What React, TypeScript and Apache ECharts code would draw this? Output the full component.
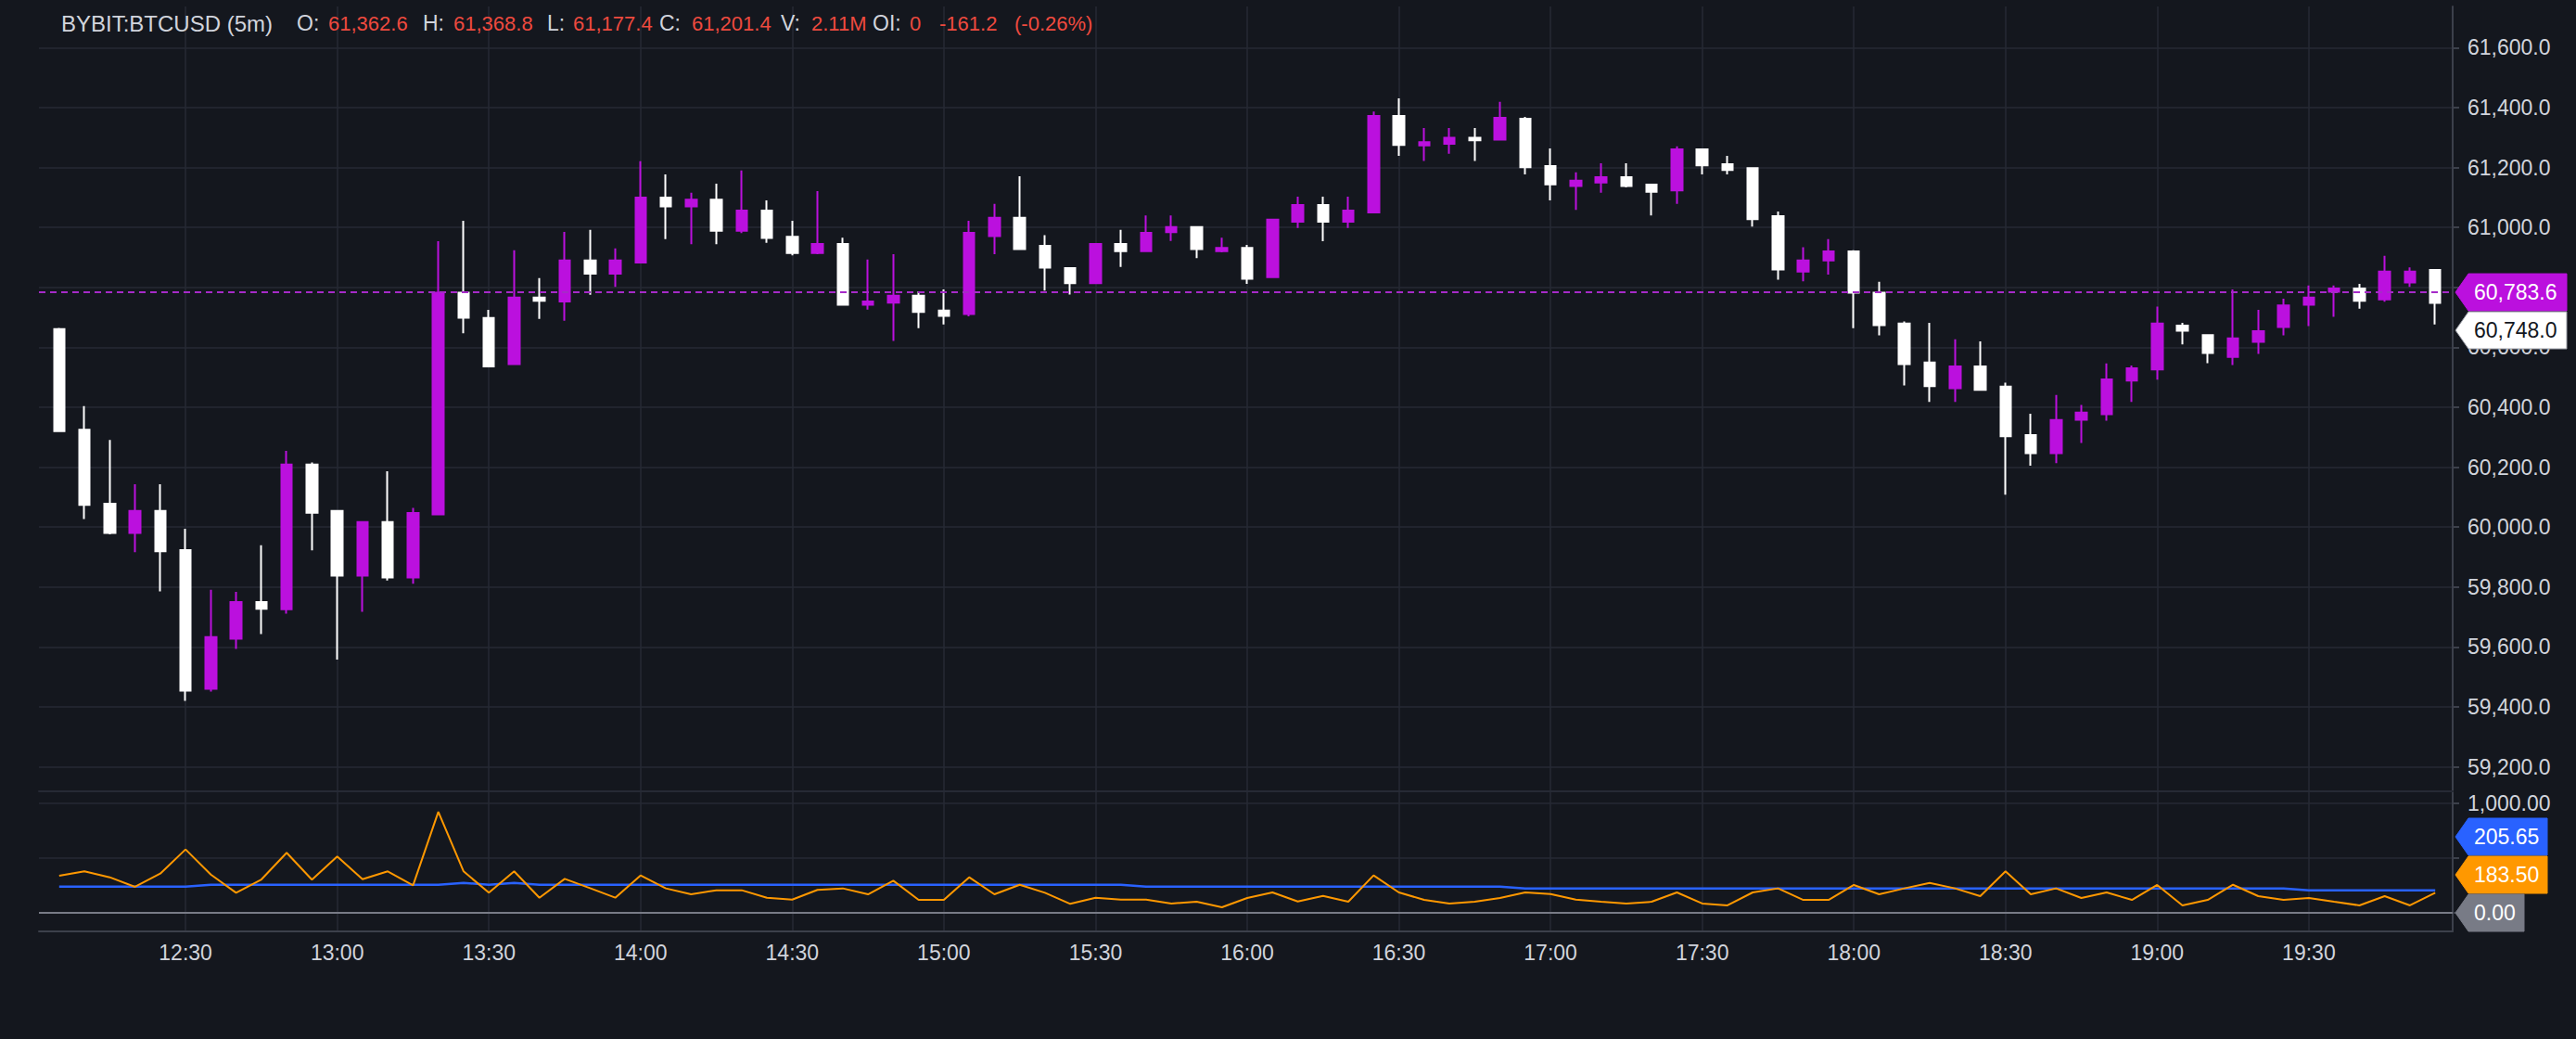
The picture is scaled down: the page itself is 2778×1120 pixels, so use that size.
import React, { useEffect, useRef } from "react";
import * as echarts from "echarts";

// ---------- DATA ----------
const openP = [
  60661, 60325, 60078, 59980, 60054, 59923, 59460, 59627, 59750, 59726,
  60209, 60054, 59838, 60017, 59832, 60042, 60782, 60698, 60544, 60766,
  60753, 60890, 60846, 60883, 61100, 61070, 61093, 60989, 61056, 60969,
  60915, 60945, 60742, 60749, 60772, 60723, 60711, 60971, 61032, 60939,
  60864, 60814, 60945, 60921, 60984, 61001, 60921, 60932, 60834, 61019,
  61075, 61019, 61050, 61372, 61274, 61279, 61299, 61293, 61362.6, 61205,
  61138, 61150, 61168, 61143, 61124, 61261, 61211, 61198, 61038, 60853,
  60890, 60920, 60782, 60679, 60549, 60463, 60536, 60469, 60307, 60247,
  60358, 60377, 60489, 60526, 60672, 60641, 60568, 60618, 60668, 60742,
  60785, 60796, 60760, 60816, 60858,
];
const highP = [
  60665, 60404, 60291, 60143, 60143, 59994, 59791, 59784, 59939, 60254,
  60216, 60056, 60019, 60186, 60064, 60954, 61022, 60725, 60924, 60831,
  60985, 60992, 60930, 61221, 61177, 61116, 61146, 61190, 61090, 61022,
  61121, 60966, 60893, 60911, 60787, 60793, 61022, 61079, 61171, 60974,
  60866, 60948, 60992, 61040, 61040, 61003, 60966, 60942, 61029, 61103,
  61103, 61103, 61387, 61431, 61332, 61332, 61332, 61419, 61368.8, 61264,
  61184, 61214, 61214, 61145, 61271, 61263, 61239, 61200, 61053, 60934,
  60961, 60924, 60819, 60686, 60682, 60627, 60620, 60482, 60378, 60441,
  60408, 60546, 60539, 60736, 60682, 60643, 60793, 60725, 60762, 60806,
  60806, 60812, 60905, 60867, 60860,
];
const lowP = [
  60318, 60027, 59976, 59916, 59785, 59420, 59451, 59593, 59643, 59711,
  59922, 59558, 59717, 59822, 59811, 60040, 60647, 60534, 60542, 60695,
  60689, 60775, 60802, 60880, 60961, 60944, 60944, 60981, 60949, 60907,
  60911, 60740, 60726, 60621, 60664, 60676, 60703, 60911, 60925, 60789,
  60776, 60812, 60868, 60919, 60955, 60898, 60917, 60812, 60832, 60998,
  60954, 60998, 61047, 61239, 61222, 61246, 61222, 61292, 61177.4, 61090,
  61059, 61116, 61134, 61040, 61079, 61177, 61177, 61003, 60826, 60820,
  60843, 60664, 60640, 60473, 60418, 60418, 60455, 60108, 60205, 60213,
  60281, 60355, 60418, 60492, 60610, 60547, 60541, 60578, 60640, 60671,
  60702, 60729, 60752, 60802, 60676,
];
const closeP = [
  60320, 60074, 59980, 60054, 59919, 59454, 59633, 59750, 59727, 60209,
  60048, 59838, 60017, 59832, 60047, 60782, 60699, 60536, 60766, 60755,
  60890, 60846, 60890, 61100, 61070, 61093, 60989, 61056, 60965, 60915,
  60945, 60742, 60753, 60772, 60718, 60705, 60982, 61032, 60928, 60866,
  60814, 60945, 60921, 60982, 61001, 60928, 60932, 60829, 61026, 61075,
  61019, 61056, 61372, 61275, 61285, 61299, 61291, 61366, 61201.4, 61144,
  61156, 61168, 61138, 61119, 61261, 61207, 61192, 61028, 60860, 60890,
  60920, 60782, 60674, 60544, 60470, 60536, 60458, 60303, 60247, 60357,
  60382, 60493, 60530, 60679, 60655, 60581, 60630, 60654, 60740, 60766,
  60796, 60755, 60853, 60853, 60748,
];
const volumeLine = [
  338, 378, 324, 237, 358, 578, 349, 183, 304, 547,
  302, 513, 307, 378, 251, 921, 378, 183, 378, 138,
  310, 225, 138, 341, 223, 169, 206, 206, 138, 121,
  209, 223, 169, 293, 118, 118, 324, 169, 256, 183,
  82, 138, 121, 121, 85, 101, 51, 135, 186, 104,
  155, 101, 341, 186, 118, 85, 101, 135, 186, 172,
  121, 101, 85, 101, 186, 85, 68, 186, 223, 118,
  118, 254, 169, 223, 273, 223, 152, 378, 169, 223,
  135, 186, 118, 254, 68, 118, 256, 152, 118, 135,
  101, 68, 152, 68, 183.5,
];
const maLine = [
  238, 238, 238, 238, 238, 238, 256, 256, 256, 256,
  256, 256, 256, 256, 256, 256, 273, 256, 273, 256,
  256, 256, 256, 256, 256, 256, 256, 256, 256, 256,
  256, 256, 256, 256, 256, 256, 256, 256, 256, 256,
  256, 256, 256, 238, 238, 238, 238, 238, 238, 238,
  238, 238, 238, 238, 238, 238, 238, 238, 222, 222,
  222, 222, 222, 222, 222, 222, 222, 222, 222, 222,
  222, 222, 222, 222, 222, 222, 222, 222, 222, 222,
  222, 222, 222, 222, 222, 222, 222, 222, 222, 205.65,
  205.65, 205.65, 205.65, 205.65, 205.65,
];
const timeTickIndex = [5, 11, 17, 23, 29, 35, 41, 47, 53, 59, 65, 71, 77, 83, 89];
const timeTickLabels = [
  "12:30", "13:00", "13:30", "14:00", "14:30", "15:00", "15:30", "16:00",
  "16:30", "17:00", "17:30", "18:00", "18:30", "19:00", "19:30",
];
const priceTicks = [59200, 59400, 59600, 59800, 60000, 60200, 60400, 60600, 60800, 61000, 61200, 61400, 61600];
// 60,800.0 sits fully under the price tag in the reference
const priceLabelTicks = [59200, 59400, 59600, 59800, 60000, 60200, 60400, 60600, 61000, 61200, 61400, 61600];
const volumeTicks = [0, 500, 1000];
const volumeLabelTicks = [1000];
const markPrice = 60783.6;
const hoverIndex = 58;
const symbolName = "BYBIT:BTCUSD (5m)";
const volumeText = "2.11M";
const oiText = "0";

// ---------- STYLE ----------
const BG = "#14171e";
const GRID = "#262a35";
const AXIS = "#3c404b";
const TEXT = "#d1d4dc";
const RED = "#ee4a3f";
const PURPLE = "#bb10de";
const DASH = "#a62ac8";
const WHITE = "#ffffff";
const BLUE = "#2962ff";
const ORANGE = "#ff9800";
const GRAY = "#787b86";
const FONT = '"Liberation Sans", Arial, sans-serif';
const FS = 23;

const X_MIN = -0.8;
const X_MAX = 94.69;

const fmt = (v: number, d: number) =>
  v.toLocaleString("en-US", { minimumFractionDigits: d, maximumFractionDigits: d });

export default function App() {
  const ref = useRef<HTMLDivElement>(null);
  useEffect(() => {
    const chart = echarts.init(ref.current!, null, { renderer: "svg" });
    const candles = openP.map((o, i) => [i, o, closeP[i], lowP[i], highP[i]]);
    const option: any = {
      animation: false,
      backgroundColor: BG,
      textStyle: { fontFamily: FONT },
      grid: [
        { left: 42, right: 133, top: 7, height: 846 },
        { left: 42, right: 133, top: 854, height: 150 },
      ],
      xAxis: [
        {
          type: "value", gridIndex: 0, min: X_MIN, max: X_MAX,
          axisLine: { show: true, onZero: false, lineStyle: { color: GRID, width: 2 } },
          axisTick: { show: false, customValues: timeTickIndex },
          axisLabel: { show: false, customValues: timeTickIndex },
          splitLine: { show: true, lineStyle: { color: GRID, width: 1.5 } },
        },
        {
          type: "value", gridIndex: 1, min: X_MIN, max: X_MAX,
          axisLine: { show: true, onZero: false, lineStyle: { color: AXIS, width: 2 } },
          axisTick: { show: false, customValues: timeTickIndex },
          axisLabel: {
            show: true, customValues: timeTickIndex, color: TEXT, fontSize: FS, fontFamily: FONT, margin: 11,
            formatter: (v: number) => {
              const k = timeTickIndex.indexOf(Math.round(v));
              return k >= 0 ? timeTickLabels[k] : "";
            },
          },
          splitLine: { show: true, lineStyle: { color: GRID, width: 1.5 } },
        },
      ],
      yAxis: [
        {
          type: "value", gridIndex: 0, position: "right", min: 59118, max: 61737.5, scale: true,
          axisLine: { show: true, onZero: false, lineStyle: { color: AXIS, width: 2 } },
          axisTick: { show: true, length: 7, customValues: priceTicks, lineStyle: { color: AXIS, width: 2 } },
          axisLabel: {
            show: true, customValues: priceLabelTicks, color: TEXT, fontSize: FS, fontFamily: FONT, margin: 16,
            formatter: (v: number) => fmt(v, 1),
          },
          splitLine: { show: true, lineStyle: { color: GRID, width: 1.5 } },
        },
        {
          type: "value", gridIndex: 1, position: "right", min: -169, max: 1099,
          axisLine: { show: true, onZero: false, lineStyle: { color: AXIS, width: 2 } },
          axisTick: { show: true, length: 7, customValues: volumeTicks, lineStyle: { color: AXIS, width: 2 } },
          axisLabel: {
            show: true, customValues: volumeLabelTicks, color: TEXT, fontSize: FS, fontFamily: FONT, margin: 16,
            formatter: (v: number) => fmt(v, 2),
          },
          splitLine: { show: true, lineStyle: { color: GRID, width: 1.5 } },
        },
      ],
      series: [
        {
          type: "candlestick", xAxisIndex: 0, yAxisIndex: 0,
          data: candles, encode: { x: 0, y: [1, 2, 3, 4] },
          barWidth: 12,
          itemStyle: { color: PURPLE, color0: WHITE, borderColor: PURPLE, borderColor0: WHITE, borderWidth: 2 },
          markLine: {
            silent: true, symbol: "none", label: { show: false },
            lineStyle: { color: DASH, type: [7, 5], width: 2.2, opacity: 1 },
            data: [{ yAxis: markPrice }],
          },
        },
        {
          type: "line", xAxisIndex: 1, yAxisIndex: 1, z: 2,
          data: maLine.map((v, i) => [i, v]),
          showSymbol: false, lineStyle: { color: BLUE, width: 2.5 }, itemStyle: { color: BLUE },
        },
        {
          type: "line", xAxisIndex: 1, yAxisIndex: 1, z: 3,
          data: volumeLine.map((v, i) => [i, v]),
          showSymbol: false, lineStyle: { color: ORANGE, width: 2 }, itemStyle: { color: ORANGE },
          markLine: {
            silent: true, symbol: "none", label: { show: false },
            lineStyle: { color: GRAY, type: "solid", width: 2 },
            data: [{ yAxis: 0 }],
          },
        },
      ],
    };
    chart.setOption(option);

    // ----- price tags & header, positioned from the axes -----
    const axisX = chart.convertToPixel({ xAxisIndex: 0 }, X_MAX) as number;
    const tipX = axisX + 3;
    const bodyX = axisX + 17;
    const TAG_H = 40;
    const STEP = 41;
    const tag = (cy: number, w: number, fill: string, color: string, text: string, stroke?: string) => [
      {
        type: "polygon", z: 100, silent: true,
        shape: { points: [[tipX, cy], [bodyX, cy - TAG_H / 2], [bodyX + w, cy - TAG_H / 2], [bodyX + w, cy + TAG_H / 2], [bodyX, cy + TAG_H / 2]] },
        style: { fill, stroke: stroke || fill, lineWidth: 1 },
      },
      {
        type: "text", z: 101, silent: true, x: bodyX + 6, y: cy,
        style: { text, fill: color, font: `${FS}px ${FONT}`, verticalAlign: "middle", textVerticalAlign: "middle" },
      },
    ];
    const lastClose = closeP[closeP.length - 1];
    const lastVol = volumeLine[volumeLine.length - 1];
    const lastMa = maLine[maLine.length - 1];
    const yMark = chart.convertToPixel({ yAxisIndex: 0 }, markPrice) as number;
    const yLast = Math.max(chart.convertToPixel({ yAxisIndex: 0 }, lastClose) as number, yMark + STEP);
    const yZero = chart.convertToPixel({ yAxisIndex: 1 }, 0) as number;
    const yVol = Math.min(chart.convertToPixel({ yAxisIndex: 1 }, lastVol) as number, yZero - STEP);
    const yMa = Math.min(chart.convertToPixel({ yAxisIndex: 1 }, lastMa) as number, yVol - STEP);

    const o = openP[hoverIndex], h = highP[hoverIndex], l = lowP[hoverIndex], c = closeP[hoverIndex];
    const chg = c - o;
    const pct = (chg / o) * 100;
    const header: [string, string, number, number][] = [
      [symbolName, TEXT, 66, 24],
      ["O:", TEXT, 320, 23], [fmt(o, 1), RED, 354, 22],
      ["H:", TEXT, 456, 23], [fmt(h, 1), RED, 489, 22],
      ["L:", TEXT, 590, 23], [fmt(l, 1), RED, 618, 22],
      ["C:", TEXT, 711, 23], [fmt(c, 1), RED, 746, 22],
      ["V:", TEXT, 842, 23], [volumeText, RED, 875, 22],
      ["OI:", TEXT, 941, 23], [oiText, RED, 981, 22],
      [fmt(chg, 1), RED, 1013, 22],
      [`(${fmt(pct, 2)}%)`, RED, 1094, 22],
    ];
    const headerEls = header.map(([t, col, x, size]) => ({
      type: "text", z: 100, silent: true, x, y: 25,
      style: { text: t, fill: col, font: `${size}px ${FONT}`, verticalAlign: "middle", textVerticalAlign: "middle" },
    }));

    chart.setOption({
      graphic: [
        ...headerEls,
        ...tag(yMark, 106, PURPLE, WHITE, fmt(markPrice, 1)),
        ...tag(yLast, 106, WHITE, "#131722", fmt(lastClose, 1), "#9598a1"),
        ...tag(yMa, 85, BLUE, WHITE, fmt(lastMa, 2)),
        ...tag(yVol, 85, ORANGE, WHITE, fmt(lastVol, 2)),
        ...tag(yZero, 60, GRAY, WHITE, fmt(0, 2)),
      ],
    });
    return () => chart.dispose();
  }, []);
  return <div ref={ref} style={{ position: "fixed", left: 0, top: 0, width: 2778, height: 1120 }} />;
}
